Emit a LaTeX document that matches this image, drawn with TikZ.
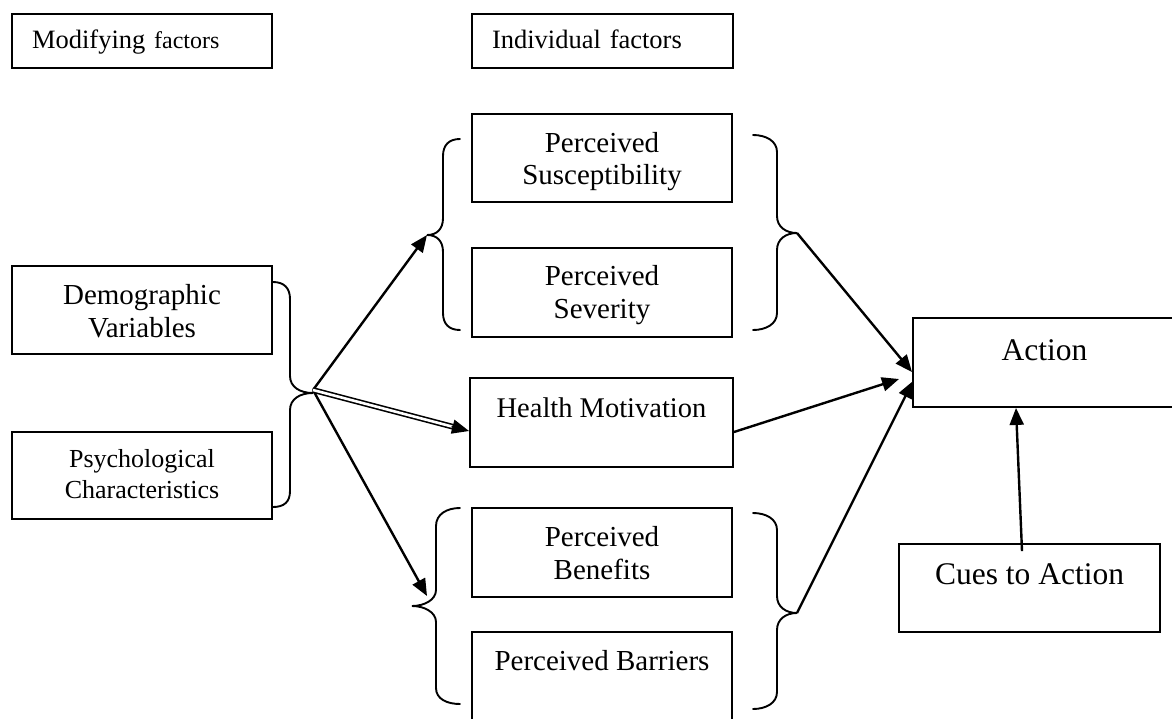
\documentclass[tikz,border=0pt]{standalone}
\usepackage{fontspec}
\setmainfont{Liberation Serif}
\usetikzlibrary{arrows.meta,calc}
\begin{document}
\begin{tikzpicture}[x=1pt,y=-1pt,
  box/.style={draw, line width=1.9pt, inner sep=2pt},
  twol/.style={box, align=center, minimum width=260pt, minimum height=88pt},
  headbox/.style={box, minimum height=54pt, inner xsep=20pt, align=left,
    text height=22pt, text depth=8pt, font=\fontsize{26.5}{30}\selectfont},
  arr/.style={line width=2.4pt, -{Triangle[length=17pt,width=14pt]}},
  brace/.style={line width=1.9pt, line cap=round}]
\useasboundingbox (0,0) rectangle (1172,718);

% header boxes
\node[headbox, minimum width=260pt, text width=220pt] (mod) at (142,41)
  {Modifying {\fontsize{24}{27}\selectfont factors}};
\node[headbox, minimum width=261pt, text width=221pt] (ind) at (602.5,41)
  {Individual factors};

% modifying factors
\node[twol, font=\fontsize{29}{33}\selectfont] (demo) at (142,310)
  {\rule{0pt}{30pt}Demographic\\Variables\rule[-9pt]{0pt}{9pt}};
\node[twol, minimum height=87pt, font=\fontsize{26}{31}\selectfont] (psy) at (142,475.5)
  {\rule{0pt}{23pt}Psychological\\Characteristics\rule[-9pt]{0pt}{9pt}};

% individual factors
\node[twol, font=\fontsize{29}{32}\selectfont] (sus) at (602,158)
  {\rule{0pt}{29pt}Perceived\\Susceptibility\rule[-9pt]{0pt}{9pt}};
\node[twol, minimum height=89pt, font=\fontsize{29}{33}\selectfont] (sev) at (602,292.5)
  {\rule{0pt}{27pt}Perceived\\Severity\rule[-9pt]{0pt}{9pt}};
\node[box, minimum width=263pt, minimum height=89pt, text height=20pt, text depth=31pt,
  font=\fontsize{28.5}{33}\selectfont] (hm) at (601.5,422.5) {Health Motivation};
\node[twol, minimum height=89pt, font=\fontsize{29}{33}\selectfont] (ben) at (602,552.5)
  {\rule{0pt}{29pt}Perceived\\Benefits\rule[-9pt]{0pt}{9pt}};
\node[box, minimum width=260pt, minimum height=92pt, text height=20pt, text depth=36pt,
  font=\fontsize{29}{33}\selectfont] (bar) at (602,678) {Perceived Barriers};

% action
\node[box, minimum width=263pt, minimum height=89pt, text height=22pt, text depth=27pt,
  font=\fontsize{31.5}{36}\selectfont] (act) at (1044.5,362.5) {Action};
\node[box, minimum width=261pt, minimum height=88pt, text height=22pt, text depth=30pt,
  font=\fontsize{31.5}{36}\selectfont] (cues) at (1029.5,588) {Cues to Action};

% braces
\draw[brace] (273,282) .. controls (284,282) and (290,288) .. (290,299) -- (290,376)
  .. controls (290,387) and (300,393) .. (313,393)
  .. controls (300,393) and (290,399) .. (290,410) -- (290,491)
  .. controls (290,502) and (284,507) .. (273,507);
\draw[brace] (460,139) .. controls (449,139) and (443,145) .. (443,156) -- (443,218)
  .. controls (443,229) and (437,235) .. (427,235)
  .. controls (437,235) and (443,241) .. (443,252) -- (443,313)
  .. controls (443,324) and (449,330) .. (460,330);
\draw[brace] (753,135) .. controls (766,135) and (777,141) .. (777,152) -- (777,216)
  .. controls (777,227) and (786,233) .. (797,233)
  .. controls (786,233) and (777,239) .. (777,250) -- (777,313)
  .. controls (777,324) and (766,330) .. (753,330);
\draw[brace] (460,508) .. controls (447,508) and (436,514) .. (436,526) -- (436,590)
  .. controls (436,600) and (424,606) .. (412,606)
  .. controls (424,606) and (436,612) .. (436,622) -- (436,688)
  .. controls (436,699) and (447,704) .. (460,704);
\draw[brace] (753,513) .. controls (766,513) and (777,519) .. (777,530) -- (777,596)
  .. controls (777,607) and (786,613) .. (797,613)
  .. controls (786,613) and (777,619) .. (777,630) -- (777,692)
  .. controls (777,703) and (766,709) .. (753,709);

% connector end points
\coordinate (dp) at (313,390);
\coordinate (tl) at (427,235);
\coordinate (bl) at (427,596);
\coordinate (tr) at (797,233);
\coordinate (br) at (797,613);
\coordinate (a1) at (912,372);
\coordinate (a2) at (899,379);
\coordinate (a3) at (913,381);
\coordinate (hmi) at ([yshift=-8.5pt]hm.west);

% arrows
\draw[arr] (dp) -- (tl);
\draw[arr] (dp) -- (bl);
\draw[line width=1.6pt, double distance=2.6pt] (dp) -- ($(hmi)!14pt!(dp)$);
\draw[arr, line width=2pt] ($(hmi)!18pt!(dp)$) -- (hmi);
\draw[arr] (tr) -- (a1);
\draw[arr] ([yshift=-9.5pt]hm.east) -- (a2);
\draw[arr] (br) -- (a3);
\draw[arr] ([xshift=-7.5pt,yshift=-8pt]cues.north) -- ([xshift=-28.5pt]act.south);
\end{tikzpicture}
\end{document}
